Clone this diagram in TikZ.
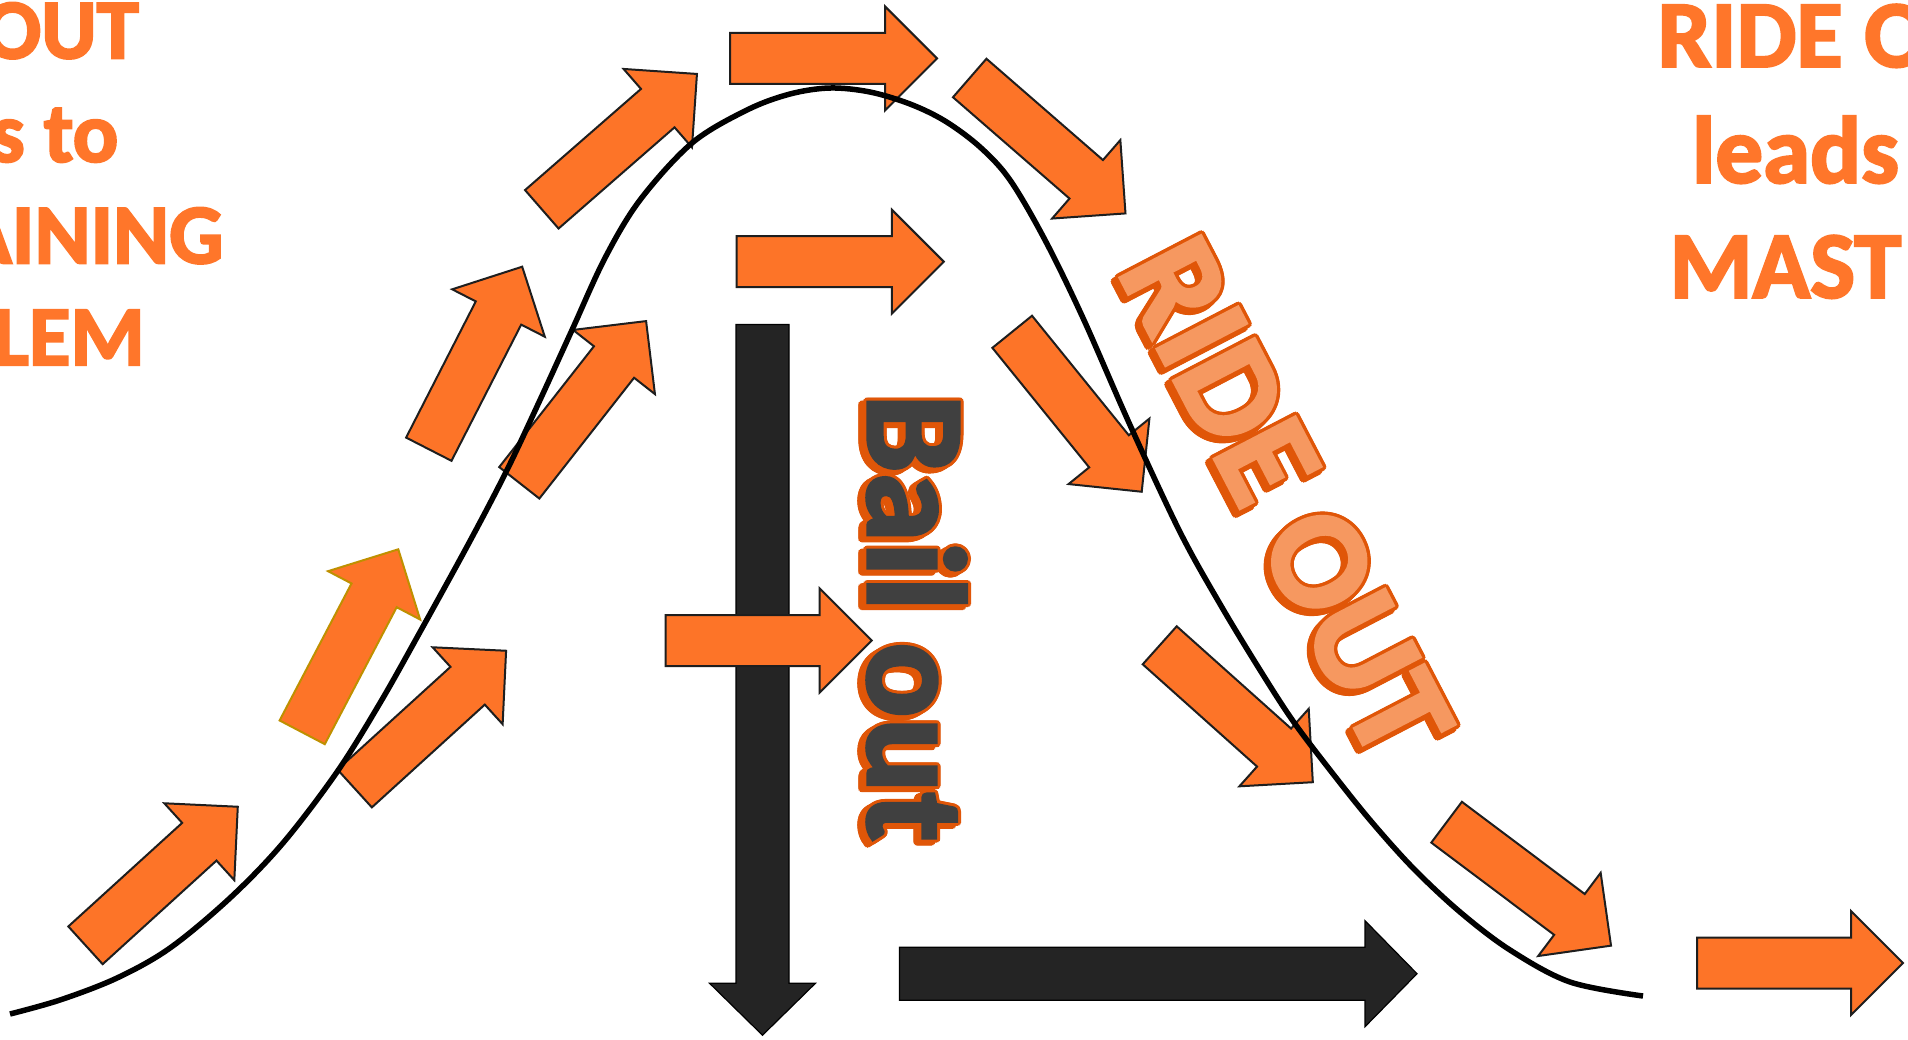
\documentclass[tikz,border=0pt]{standalone}
\usepackage{fontspec}
\newfontfamily\carlito{Carlito}[BoldFeatures={FakeBold=2.5}]
\usetikzlibrary{calc}
\definecolor{arrOrange}{RGB}{253,116,40}
\definecolor{txtOrange}{RGB}{255,118,42}
\definecolor{edgeDark}{RGB}{30,30,30}
\definecolor{goldEdge}{RGB}{191,144,0}
\definecolor{blackFill}{RGB}{36,36,36}
\definecolor{wordEdge}{RGB}{224,86,8}
\definecolor{bailGray}{RGB}{64,64,64}
\definecolor{rideFill}{RGB}{246,152,96}
\tikzset{
  orangearr/.style={fill=arrOrange, draw=edgeDark, line width=2pt, line join=miter},
  blackarr/.style={fill=blackFill, draw=black, line width=1.2pt, line join=miter},
  curveline/.style={draw=black, line width=5.5pt},
  sidetxt/.style={text=txtOrange, inner sep=0pt, font=\carlito\bfseries\fontsize{85}{100}\selectfont},
  sidetxtR/.style={text=txtOrange, inner sep=0pt, font=\carlito\bfseries\fontsize{95}{110}\selectfont},
  bailtxt/.style={inner sep=0pt, anchor=base west, rotate=-90, font=\carlito\bfseries\fontsize{140}{160}\selectfont},
  ridetxt/.style={inner sep=0pt, anchor=center, rotate=-62.5, font=\carlito\bfseries\fontsize{140}{160}\selectfont}
}
% #1 extra style, #2 tail centre, #3 angle, #4 length
\newcommand\orangearrow[4][]{%
  \draw[orangearr,#1,shift={#2},rotate=#3] (0,25.5) -- ({#4-52},25.5) -- ({#4-52},52) -- (#4,0) -- ({#4-52},-52) -- ({#4-52},-25.5) -- (0,-25.5) -- cycle;}
\newcommand\blackarrow[3]{%
  \draw[blackarr,shift={#1},rotate=#2] (0,26.5) -- ({#3-52},26.5) -- ({#3-52},53) -- (#3,0) -- ({#3-52},-53) -- ({#3-52},-26.5) -- (0,-26.5) -- cycle;}
\begin{document}
\begin{tikzpicture}[x=1pt,y=-1pt]
\useasboundingbox (0,0) rectangle (1908,1039);
\fill[white] (0,0) rectangle (1908,1039);
\clip (0,0) rectangle (1908,1039);

% black arrows
\blackarrow{(762.5,324.5)}{-90}{710.7}
\blackarrow{(899.4,973.7)}{0}{517.6}

% orange arrows
\orangearrow{(85.5,945.3)}{42.3}{205.9}
\orangearrow[draw=goldEdge]{(302.2,732.3)}{62.3}{206.7}
\orangearrow{(354.7,788.5)}{42.3}{204.7}
\orangearrow{(428.8,449.2)}{62.9}{205}
\orangearrow{(519.3,482.8)}{51.9}{205.5}
\orangearrow{(541.8,209.3)}{41.1}{205.9}
\orangearrow{(730.2,58.4)}{0}{206.8}
\orangearrow{(736.6,261.7)}{0}{207.2}
\orangearrow{(969.7,78)}{-41}{206.4}
\orangearrow{(1012.2,331.8)}{-51}{205.8}
\orangearrow{(1159.7,645.3)}{-41.8}{205.4}
\orangearrow{(1446.6,822.2)}{-36.9}{205.6}
\orangearrow{(1697,963)}{0}{206}
\orangearrow{(665.7,640.5)}{0}{206}

% bell curve
\draw[curveline] plot[smooth, tension=0.55] coordinates {
 (10,1014) (60,1000) (117,978) (170,948) (230,898) (283,843) (337,772)
 (380,703) (420,632) (470,541) (507,470) (540,400) (572,330) (605,258)
 (640,200) (692,143) (747,110) (790,94) (830,88) (870,92) (910,104)
 (945,121) (980,147) (1010,180) (1045,240) (1083,318) (1130,425)
 (1180,532) (1220,604) (1260,670) (1293,721) (1330,770) (1370,820)
 (1413,868) (1460,912) (1510,950) (1570,982) (1643,996)};

% side texts
\node[sidetxt, anchor=base east] (l1) at (139,58.3) {OUT};
\node[sidetxt, anchor=base east] (l2) at (118.5,161.7) {s to};
\node[sidetxt, anchor=base east] (l3) at (223.5,263.3) {AINING};
\node[sidetxt, anchor=base east] (l4) at (145,365) {LEM};
\node[sidetxtR, anchor=base west] (r1) at (1657.5,66.7) {RIDE O};
\node[sidetxtR, anchor=base west] (r2) at (1691.8,182.7) {leads};
\node[sidetxtR, anchor=base west] (r3) at (1669.4,297.7) {MAST};

% Bail out
\coordinate (bailpos) at (868,394);
\foreach \a in {0,30,...,330}{
  \node[bailtxt, text=wordEdge] (bs\a) at ($(bailpos)+(-5,3)+(\a:3)$) {Bail out};
}
\foreach \a in {0,30,...,330}{
  \node[bailtxt, text=wordEdge] (bo\a) at ($(bailpos)+(\a:3)$) {Bail out};
}
\node[bailtxt, text=bailGray] (bail) at (bailpos) {Bail out};

% RIDE OUT
\coordinate (ridepos) at (1286,498);
\foreach \a in {0,30,...,330}{
  \node[ridetxt, text=wordEdge] (rs\a) at ($(ridepos)+(-4,4)+(\a:3.4)$) {RIDE OUT};
}
\foreach \a in {0,30,...,330}{
  \node[ridetxt, text=wordEdge] (ro\a) at ($(ridepos)+(\a:3.4)$) {RIDE OUT};
}
\node[ridetxt, text=rideFill] (ride) at (ridepos) {RIDE OUT};
\end{tikzpicture}
\end{document}
